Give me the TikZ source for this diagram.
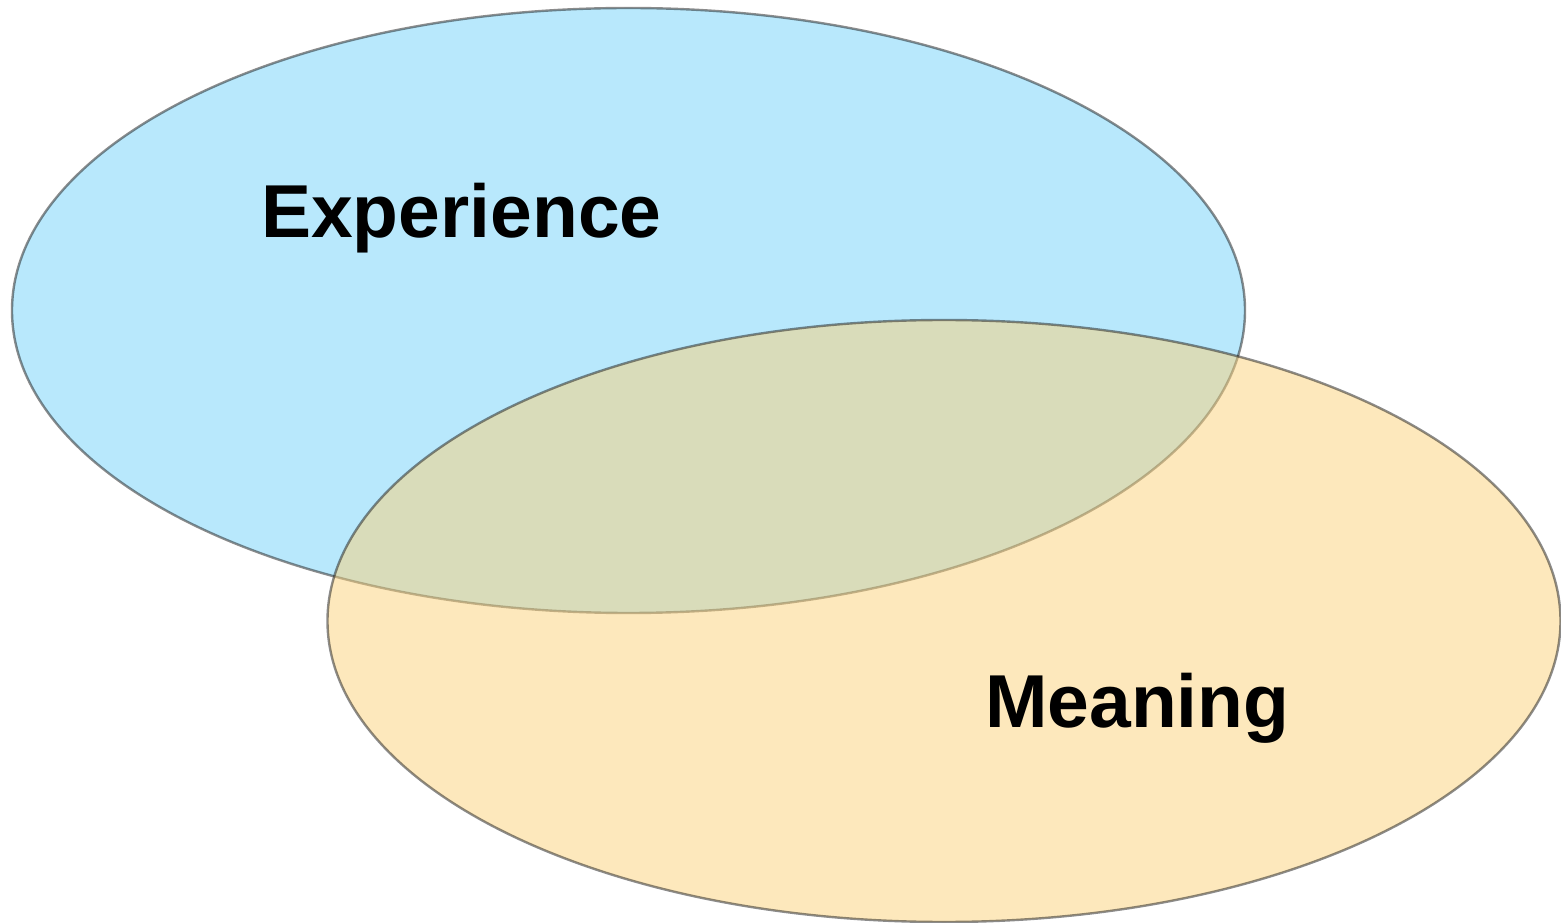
\documentclass[tikz,border=0pt]{standalone}
\usepackage{fontspec}
\setmainfont{Liberation Sans}
\definecolor{blueset}{RGB}{113,209,249}
\definecolor{orangeset}{RGB}{251,209,121}
\tikzset{
  setshape/.style={fill opacity=0.5, draw opacity=0.5, draw=black!90, line width=2.4pt},
  setlabel/.style={anchor=base west, inner sep=0pt, font=\fontsize{75}{80}\selectfont\bfseries}
}
\begin{document}
\begin{tikzpicture}[x=1pt,y=1pt]
\useasboundingbox (0,0) rectangle (1561,922);
\path[setshape, fill=blueset] (628.5,611.5) ellipse [x radius=616.5, y radius=302.5];
\path[setshape, fill=orangeset] (944,301) ellipse [x radius=616.5, y radius=301];
\node[setlabel] (exp) at (261,684) {Experience};
\node[setlabel] (mea) at (985,195) {Meaning};
\end{tikzpicture}
\end{document}
